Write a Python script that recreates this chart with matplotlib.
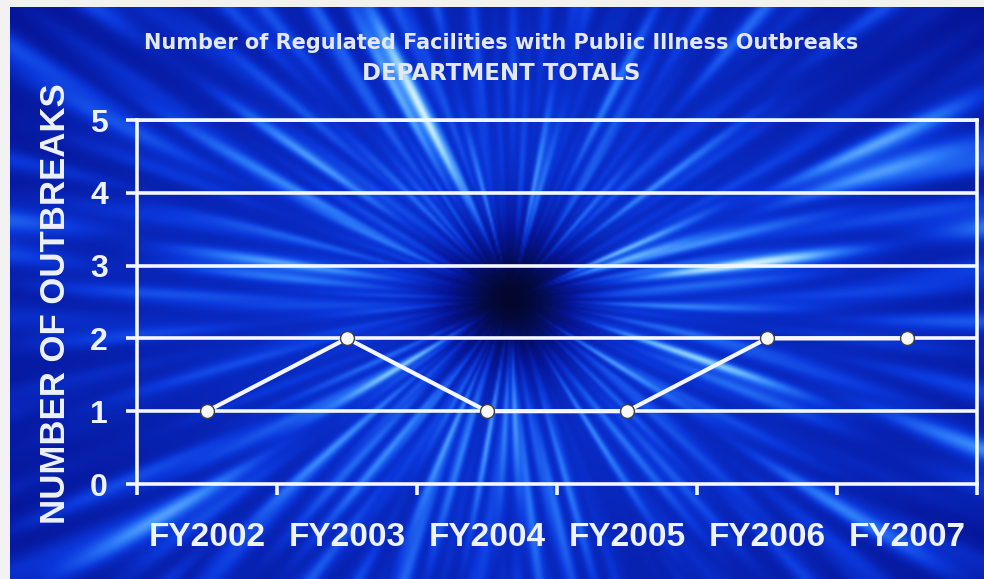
import matplotlib
matplotlib.use("Agg")
import matplotlib.pyplot as plt
import numpy as np
from matplotlib.colors import LinearSegmentedColormap

# data
years = ["FY2002", "FY2003", "FY2004", "FY2005", "FY2006", "FY2007"]
outbreaks = [1, 2, 1, 1, 2, 2]
yticks = [0, 1, 2, 3, 4, 5]

title1 = "Number of Regulated Facilities with Public Illness Outbreaks"
title2 = "DEPARTMENT TOTALS"
ylabel = "NUMBER OF OUTBREAKS"

plt.rcParams['font.family'] = ['Liberation Sans', 'DejaVu Sans']
txt = '#eef2fa'
white = '#f4f7ff'

fig = plt.figure(figsize=(9.84, 5.79), dpi=100, facecolor='#f2f2f2')

# starburst background (texture only, computed at half resolution)
H, W = 286, 487
yy, xx = np.mgrid[0:H, 0:W].astype(float)
cx, cy = 250, 145
dx, dy = xx - cx, yy - cy
r = np.hypot(dx, dy)
th = np.arctan2(dy, dx)
ray = np.zeros_like(th)
freqs = [3, 7, 11, 19, 27, 37, 53, 71, 97]
phases = [0.3, 1.7, 2.9, 0.8, 4.1, 5.3, 2.2, 3.6, 1.1]
for f, p in zip(freqs, phases):
    ray += np.cos(f * th + p)
ray = (ray - ray.min()) / (ray.max() - ray.min())
ray = ray ** 2.5
seg = 0.55 + 0.45 * np.cos(r / 25 + 5 * np.sin(13 * th))
hole = 1 - np.exp(-(r / 38) ** 2)
ell = (dx / 300) ** 2 + (dy / 230) ** 2
fall = np.exp(-ell)
I = hole * (0.30 + 0.85 * ray * seg) * (0.35 + 0.65 * fall)
I = np.clip(I, 0, 1)
cmap = LinearSegmentedColormap.from_list(
    'burst', [(0, '#03072e'), (0.18, '#06169a'), (0.34, '#0b38dc'),
              (0.55, '#2a78f8'), (0.78, '#7cc4ff'), (1, '#d8f2ff')])
bg = fig.add_axes([10 / 984, 0, 974 / 984, 572 / 579])
bg.imshow(I, cmap=cmap, vmin=0, vmax=1, aspect='auto', interpolation='bicubic')
bg.axis('off')

# chart
ax = fig.add_axes([137 / 984, 1 - 484 / 579, (977 - 137) / 984, (484 - 120) / 579])
ax.set_facecolor('none')
x = np.arange(len(years))
ax.set_xlim(-0.5, len(years) - 0.5)
ax.set_ylim(0, 5)
for yv in yticks[1:]:
    ax.axhline(yv, color=white, lw=2.6, zorder=1)
ax.plot(x, outbreaks, color=white, lw=3, zorder=3,
        marker='o', markersize=10, markerfacecolor='#f8f8f8',
        markeredgecolor='#404040', markeredgewidth=1)

for s in ['left', 'bottom', 'right', 'top']:
    ax.spines[s].set_color(white)
    ax.spines[s].set_linewidth(2.6)

ax.set_xticks(np.arange(-0.5, len(years), 1.0))
ax.set_xticklabels([''] * (len(years) + 1))
ax.set_xticks(x, minor=True)
ax.set_xticklabels(years, minor=True, fontsize=24, fontweight='bold', color=txt)
ax.tick_params(axis='x', which='major', length=8, width=2.6, color=white, direction='out')
ax.tick_params(axis='x', which='minor', length=0, pad=27)
ax.set_yticks(yticks)
ax.set_yticklabels([str(v) for v in yticks], fontsize=23, fontweight='bold', color=txt)
ax.tick_params(axis='y', length=8, width=2.6, color=white, direction='out', pad=13)

fig.text(56 / 984, 1 - 304 / 579, ylabel, rotation=90, ha='center', va='center',
         fontsize=25, fontweight='bold', color=txt)

fig.text(501 / 984, 1 - 43 / 579, title1, ha='center', va='center',
         fontsize=15, fontweight='bold', color='#e4e8f0', family='DejaVu Sans')
fig.text(501 / 984, 1 - 73 / 579, title2, ha='center', va='center',
         fontsize=16.5, fontweight='bold', color='#e4e8f0', family='DejaVu Sans')

fig.savefig('out.png', dpi=100, facecolor=fig.get_facecolor())
